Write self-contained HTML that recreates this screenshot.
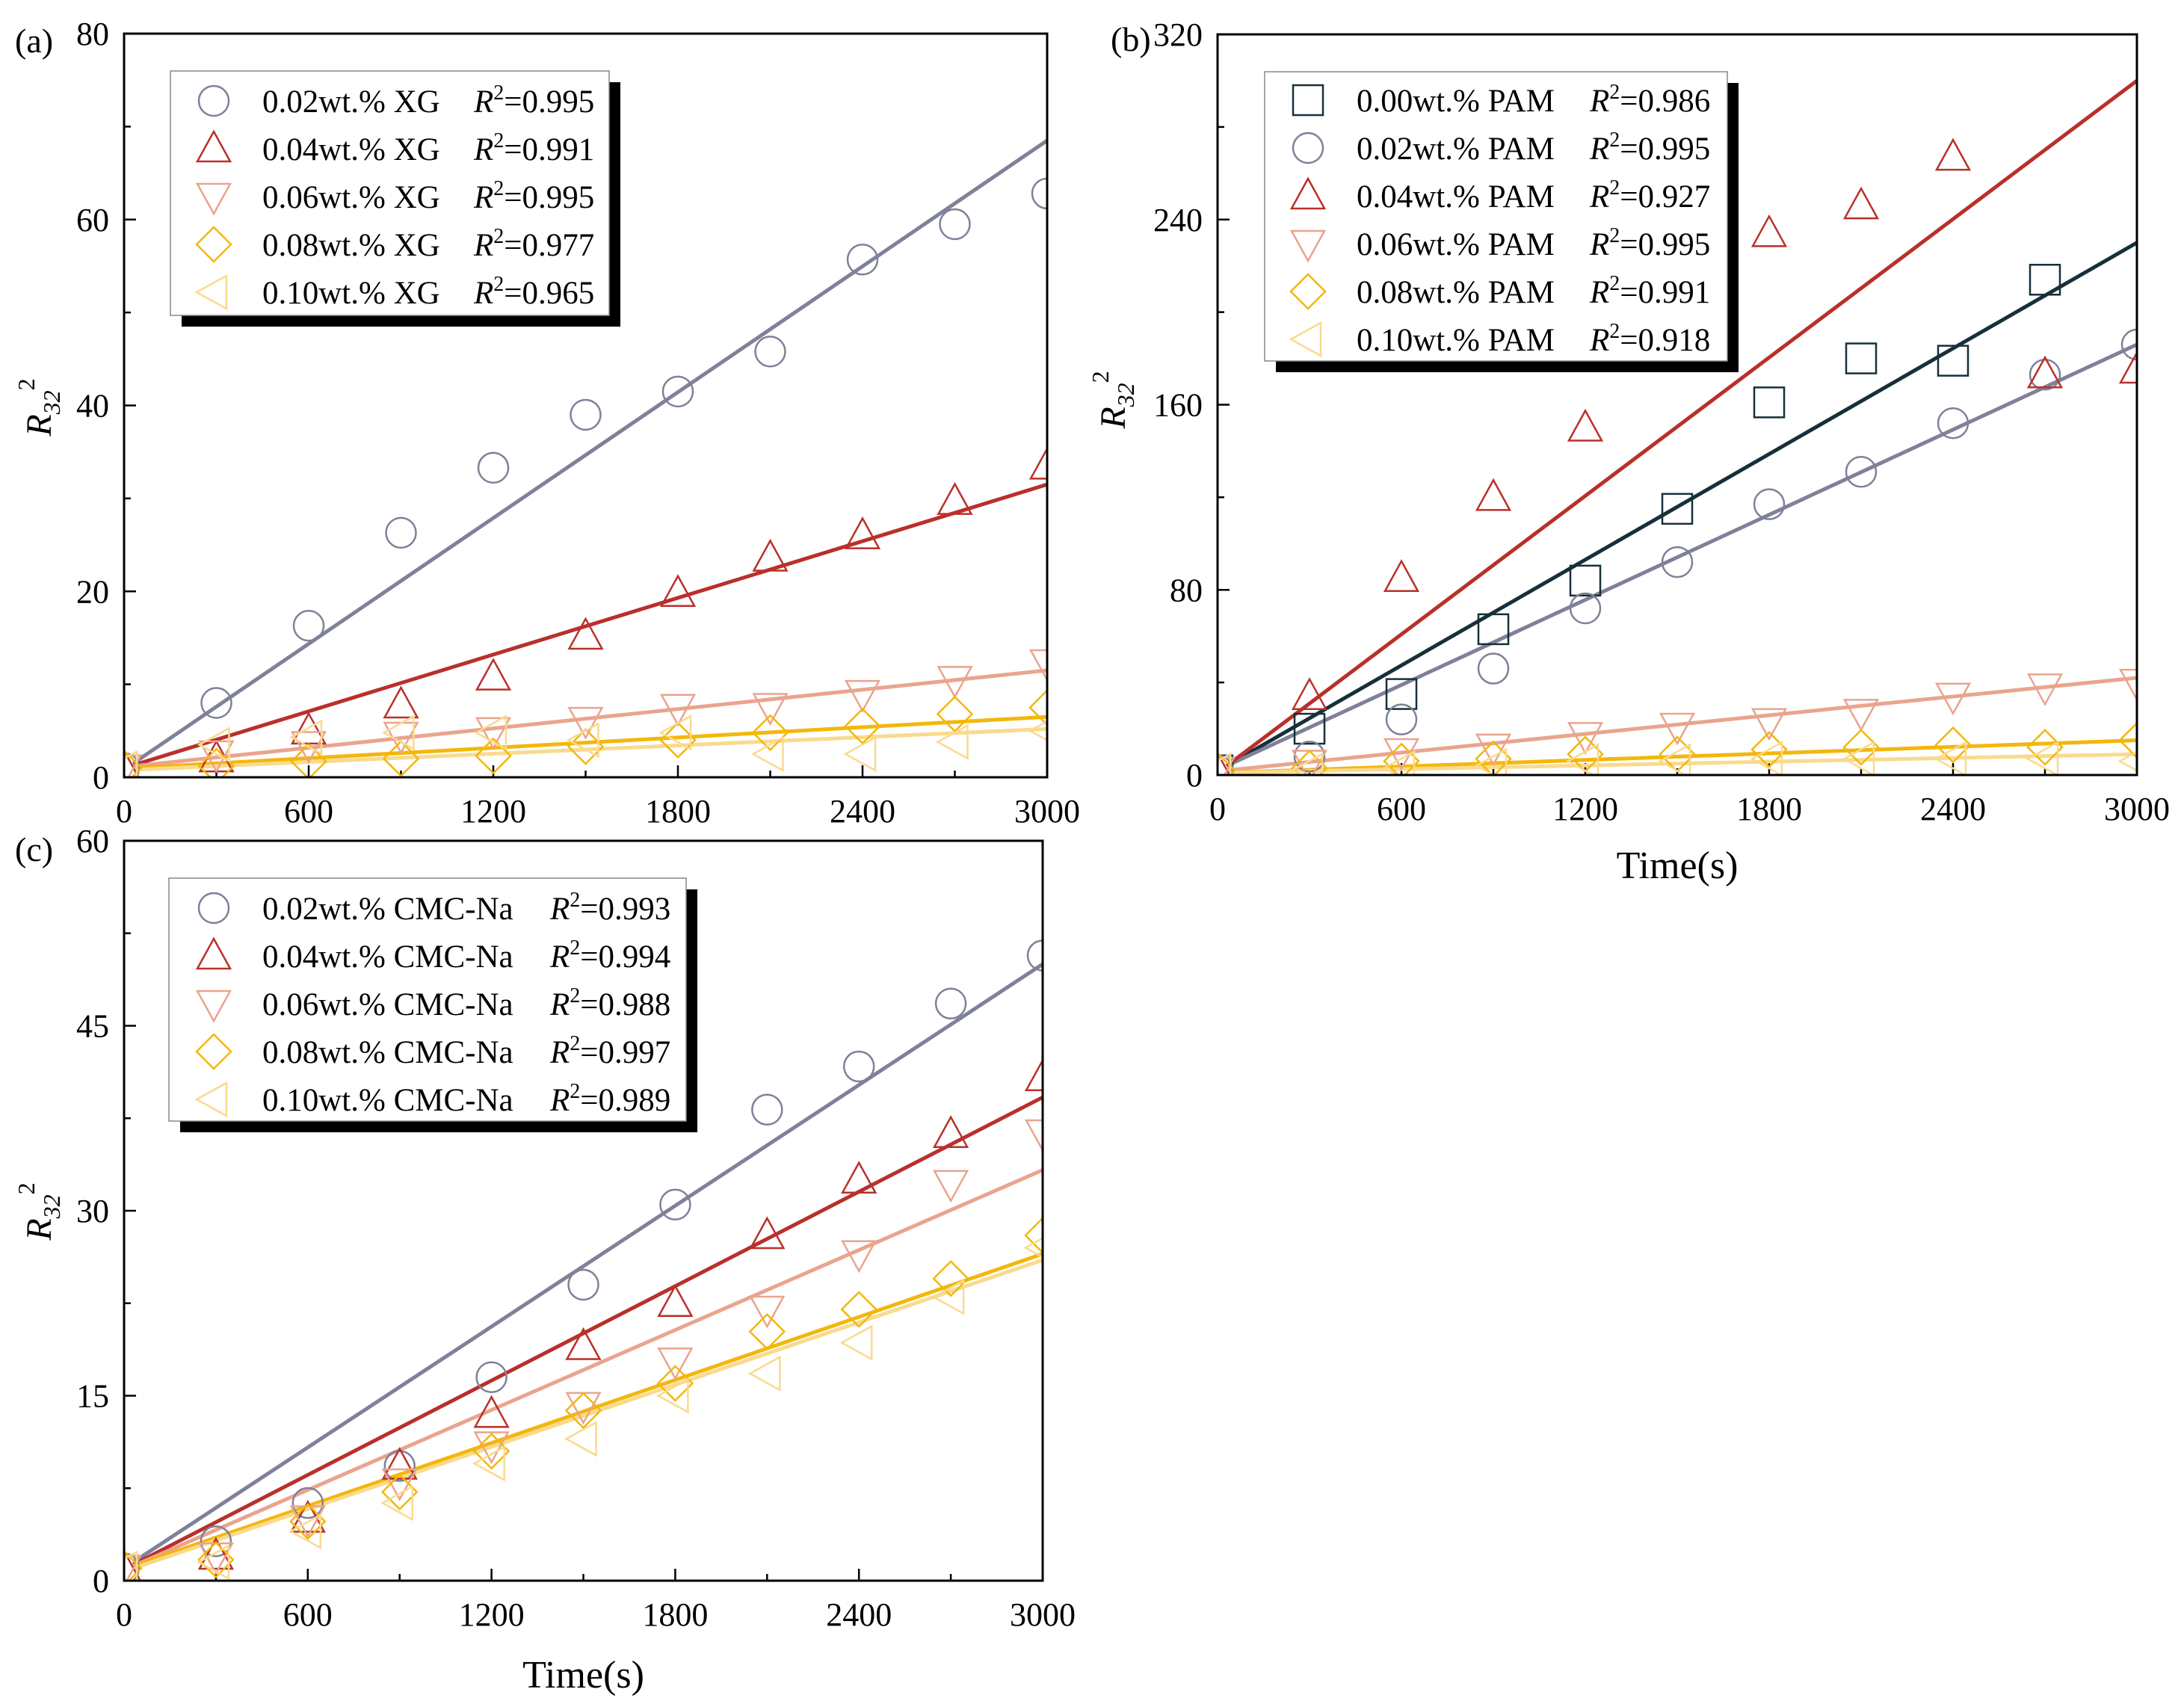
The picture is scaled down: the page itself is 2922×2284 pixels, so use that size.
<!DOCTYPE html>
<html><head><meta charset="utf-8"><style>
html,body{margin:0;padding:0;background:#fff}
svg{display:block;font-family:"Liberation Serif",serif}
</style></head><body>
<svg id="chart" width="2922" height="2284" viewBox="0 0 2922 2284" xmlns="http://www.w3.org/2000/svg"></svg>
<script>
const xTimes=[0,300,600,900,1200,1500,1800,2100,2400,2700,3000];
const xTicks=[0,600,1200,1800,2400,3000];
// Panel (a) XG
const aTicksY=[0,20,40,60,80];
const aLabels=["0.02wt.%  XG","0.04wt.%  XG","0.06wt.%  XG","0.08wt.%  XG","0.10wt.%  XG"];
const aR2=["0.995","0.991","0.995","0.977","0.965"];
const aXG02=[1,8,16.3,26.3,33.3,39,41.5,45.8,55.7,59.5,62.8];
const aXG04=[1,2,5,7.8,10.8,15.2,19.8,23.6,26,29.7,33.5];
const aXG06=[1,2.5,3.5,4.5,5,6.1,7.5,7.6,9,10.5,12.3];
const aXG08=[1,1.2,1.7,2,2.3,3.3,4,4.8,5.5,6.8,7.5];
const aXG10=[1,3.5,4.3,4.8,4.8,4,4.8,2.5,2.5,3.8,5];
const aFitStart=[1.5,1.3,1.2,1,0.8];
const aFitEnd=[68.5,31.5,11.5,6.5,5.2];
// Panel (b) PAM
const bTicksY=[0,80,160,240,320];
const bLabels=["0.00wt.% PAM","0.02wt.% PAM","0.04wt.% PAM","0.06wt.% PAM","0.08wt.% PAM","0.10wt.% PAM"];
const bR2=["0.986","0.995","0.927","0.995","0.991","0.918"];
const bPAM00=[2,20,35,63,84,115,161,180,179,214,null];
const bPAM02=[2,8,24,46,72,92,117,131,152,173,186];
const bPAM04=[2,34,85,120,150,195,234,246,267,173,175];
const bPAM06=[2,5,10,12,17,21,23,27,34,38,40];
const bPAM08=[2,3,6,7,9,9,11,12,13,12,15];
const bPAM10=[2,2,3,4,6,6,7,7,7,7,6];
const bFitStart=[4,4,4,2,1,1];
const bFitEnd=[230,186,300,42,15,9];
// Panel (c) CMC-Na
const cTicksY=[0,15,30,45,60];
const cLabels=["0.02wt.% CMC-Na","0.04wt.% CMC-Na","0.06wt.% CMC-Na","0.08wt.% CMC-Na","0.10wt.% CMC-Na"];
const cR2=["0.993","0.994","0.988","0.997","0.989"];
const cC02=[1,3.2,6.3,9.3,16.5,24,30.5,38.2,41.7,46.8,50.7];
const cC04=[1,2,5,9.3,13.5,19,22.5,28,32.5,36.2,40.8];
const cC06=[1,2,5,8,11,14.2,17.8,22,26.5,32.2,36.3];
const cC08=[1,1.7,4.8,7.2,10.5,13.8,16,20.2,22,24.5,28];
const cC10=[1,1.5,4,6.3,9.5,11.5,15,16.8,19.3,23,27];
const cFitStart=[1.5,1.3,1.2,1.2,1];
const cFitEnd=[50,39.2,33.3,26.5,26];

const NS="http://www.w3.org/2000/svg";
const svg=document.getElementById('chart');
function mk(tag,attrs,parent){const e=document.createElementNS(NS,tag);for(const k in attrs)e.setAttribute(k,attrs[k]);(parent||svg).appendChild(e);return e;}
const defs=mk('defs',{});

const C={gray:"#7f8199",red:"#b9302a",salmon:"#eaa48e",gold:"#f3b70c",pale:"#f9da8e",navy:"#163039"};

function marker(g,type,cx,cy,col){
  const r=20;let e;
  if(type==='circle'){e=mk('circle',{cx:cx,cy:cy,r:r,fill:'none',stroke:col,'stroke-width':2.5},g);}
  else if(type==='square'){e=mk('rect',{x:cx-r,y:cy-r,width:2*r,height:2*r,fill:'none',stroke:col,'stroke-width':2.5},g);}
  else {let p;
    if(type==='up')p=[[cx,cy-23],[cx+22,cy+17],[cx-22,cy+17]];
    else if(type==='down')p=[[cx,cy+23],[cx+22,cy-17],[cx-22,cy-17]];
    else if(type==='diamond')p=[[cx,cy-23],[cx+23,cy],[cx,cy+23],[cx-23,cy]];
    else p=[[cx-23,cy],[cx+17,cy-22],[cx+17,cy+22]];
    e=mk('polygon',{points:p.map(q=>q.join(',')).join(' '),fill:'none',stroke:col,'stroke-width':2.5},g);}
  return e;
}

function panel(o){
  const g=mk('g',{});
  
  
  if(o.bg){const b=mk('rect',{x:0,y:o.bg,width:1461,height:2284-o.bg,fill:'#fff'},g);
    }
  const cp=mk('clipPath',{id:'clip-'+o.name},defs);
  mk('rect',{x:o.x0,y:o.y0,width:o.x1-o.x0,height:o.y1-o.y0},cp);
  const sx=v=>o.x0+(v/3000)*(o.x1-o.x0);
  const sy=v=>o.y1-(v/o.ymax)*(o.y1-o.y0);
  xTicks.forEach((t,i)=>{
    const l=mk('line',{x1:sx(t),x2:sx(t),y1:o.y1,y2:o.y1-16,stroke:'#000','stroke-width':2.5},g);
    
    if(i<xTicks.length-1){const m=mk('line',{x1:sx(t+300),x2:sx(t+300),y1:o.y1,y2:o.y1-9,stroke:'#000','stroke-width':2.5},g);
    }
    const tx=mk('text',{x:sx(t),y:o.y1+60,'font-size':44,'text-anchor':'middle'},g);tx.textContent=t;
    
  });
  const step=o.ticksY[1]-o.ticksY[0];
  o.ticksY.forEach((t,i)=>{
    const l=mk('line',{x1:o.x0,x2:o.x0+16,y1:sy(t),y2:sy(t),stroke:'#000','stroke-width':2.5},g);
    
    if(i<o.ticksY.length-1){const m=mk('line',{x1:o.x0,x2:o.x0+9,y1:sy(t+step/2),y2:sy(t+step/2),stroke:'#000','stroke-width':2.5},g);
      }
    const tx=mk('text',{x:o.x0-20,y:sy(t)+15,'font-size':44,'text-anchor':'end'},g);tx.textContent=t;
    
  });
  const pg=mk('g',{'clip-path':'url(#clip-'+o.name+')'},g);
  
  
  o.series.forEach((s,i)=>{
    const ln=mk('line',{x1:sx(30),y1:sy(o.fitS[i]),x2:sx(3000),y2:sy(o.fitE[i]),stroke:s.col,'stroke-width':5},pg);
    
  });
  o.series.forEach((s,i)=>{
    s.data.forEach((v,j)=>{ if(v===null)return;
      const m=marker(pg,s.type,sx(xTimes[j]),sy(v),s.col);
      
      
    });
  });
  const frame=mk('rect',{x:o.x0,y:o.y0,width:o.x1-o.x0,height:o.y1-o.y0,fill:'none',stroke:'#000','stroke-width':3},g);
  
  const L=o.leg;
  const sh=mk('rect',{x:L.x+15,y:L.y+15,width:L.w,height:L.h,fill:'#000'},g);
  
  const lb=mk('rect',{x:L.x,y:L.y,width:L.w,height:L.h,fill:'#fff',stroke:'#888','stroke-width':1.5},g);
  
  o.series.forEach((s,i)=>{
    const cy=L.rows[0]+i*L.dy;
    const m=marker(g,s.type,L.mx,cy,s.col);
    
    const t=mk('text',{x:L.tx,y:cy+15,'font-size':43,'xml:space':'preserve'},g);t.textContent=o.labels[i];
    
    const r=mk('text',{x:L.rx,y:cy+15,'font-size':43},g);
    r.innerHTML='<tspan font-style="italic">R</tspan><tspan dy="-17" font-size="28">2</tspan><tspan dy="17">='+o.r2[i]+'</tspan>';
    
  });
  const yt=mk('text',{x:0,y:0,'font-size':48,transform:`translate(${o.ytx},${o.yty}) rotate(-90)`,'text-anchor':'middle'},g);
  yt.innerHTML='<tspan font-style="italic">R</tspan><tspan dy="12" font-size="32" font-style="italic">32</tspan><tspan dy="-34" font-size="32">2</tspan>';
  
  if(o.xt){const xt=mk('text',{x:(o.x0+o.x1)/2,y:o.xt,'font-size':52,'text-anchor':'middle'},g);xt.textContent='Time(s)';
    }
  const pl=mk('text',{x:o.plx,y:o.ply,'font-size':46},g);pl.textContent=o.tag;
  
}

panel({name:'panel-a-xg',tag:'(a)',plx:20,ply:70,x0:166,x1:1401,y0:45,y1:1040,ymax:80,ticksY:aTicksY,
  series:[{data:aXG02,type:'circle',col:C.gray},{data:aXG04,type:'up',col:C.red},{data:aXG06,type:'down',col:C.salmon},{data:aXG08,type:'diamond',col:C.gold},{data:aXG10,type:'left',col:C.pale}],
  fitS:aFitStart,fitE:aFitEnd,labels:aLabels,r2:aR2,
  leg:{x:228,y:95,w:587,h:327,rows:[135],dy:64,mx:286,tx:351,rx:634},ytx:68,yty:545});

panel({name:'panel-b-pam',tag:'(b)',plx:1486,ply:68,x0:1629,x1:2859,y0:46,y1:1037,ymax:320,ticksY:bTicksY,
  series:[{data:bPAM00,type:'square',col:C.navy},{data:bPAM02,type:'circle',col:C.gray},{data:bPAM04,type:'up',col:C.red},{data:bPAM06,type:'down',col:C.salmon},{data:bPAM08,type:'diamond',col:C.gold},{data:bPAM10,type:'left',col:C.pale}],
  fitS:bFitStart,fitE:bFitEnd,labels:bLabels,r2:bR2,
  leg:{x:1692,y:96,w:619,h:387,rows:[134],dy:64,mx:1750,tx:1815,rx:2127},ytx:1505,yty:535,xt:1175});

panel({name:'panel-c-cmc',tag:'(c)',plx:20,ply:1152,bg:1102,x0:166,x1:1395,y0:1125,y1:2115,ymax:60,ticksY:cTicksY,
  series:[{data:cC02,type:'circle',col:C.gray},{data:cC04,type:'up',col:C.red},{data:cC06,type:'down',col:C.salmon},{data:cC08,type:'diamond',col:C.gold},{data:cC10,type:'left',col:C.pale}],
  fitS:cFitStart,fitE:cFitEnd,labels:cLabels,r2:cR2,
  leg:{x:226,y:1175,w:692,h:325,rows:[1215],dy:64,mx:286,tx:351,rx:736},ytx:68,yty:1621,xt:2258});
</script>
</body></html>
